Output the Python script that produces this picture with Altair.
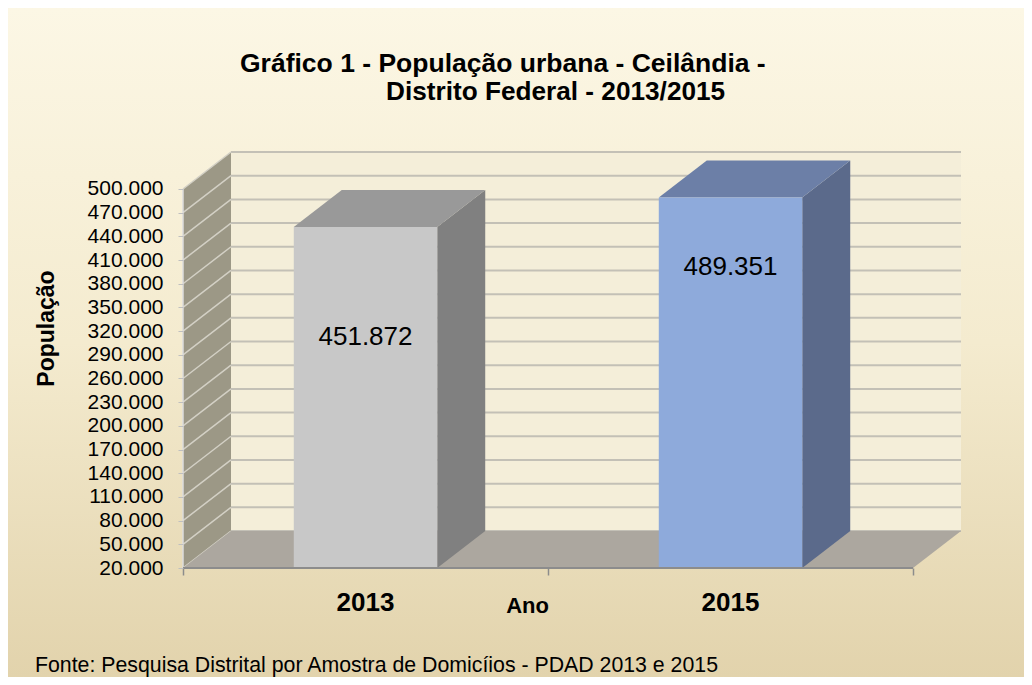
import altair as alt
import pandas as pd

# ---------------- data ----------------
anos = ["2013", "2015"]
populacao = [451872, 489351]
ticks_y = [20000, 50000, 80000, 110000, 140000, 170000, 200000, 230000,
           260000, 290000, 320000, 350000, 380000, 410000, 440000, 470000, 500000]
cores_frente = ["#c8c8c8", "#8eaadb"]
cores_topo = ["#999999", "#6c7fa7"]
cores_lado = ["#808080", "#5b6a8b"]

titulo1 = "Gráfico 1 - População urbana - Ceilândia -"
titulo2 = "Distrito Federal - 2013/2015"
titulo_y = "População"
titulo_x = "Ano"
fonte = "Fonte: Pesquisa Distrital por Amostra de Domicíios - PDAD 2013 e 2015"

# ---------------- layout / style ----------------
Y_MIN, Y_MAX = ticks_y[0], ticks_y[-1]
N = len(anos)
DX = 0.1315      # depth of the 3D effect, in category units
DY = 46860       # depth of the 3D effect, in value units
HALF = 0.1965    # half bar width, in category units
W, H = 778, 416
PAD = {"left": 175, "top": 144, "right": 63, "bottom": 109}
FONT = "Liberation Sans"

xs = alt.Scale(domain=[0, N + DX], nice=False, zero=False)
ys = alt.Scale(domain=[Y_MIN, Y_MAX + DY], nice=False, zero=False)

AX_X = alt.Axis(
    values=list(range(N + 1)), labels=False, domain=False, grid=False, zindex=2,
    tickColor="#8c8c8c", tickWidth=1.5, tickSize=7,
    title=titulo_x, titleFontSize=22, titleFontWeight="bold", titleColor="#000000",
    titleFont=FONT, titleX=344, titleY=44, titleAlign="center",
    titleBaseline="alphabetic")
AX_Y = alt.Axis(
    values=ticks_y, labelExpr="replace(format(datum.value, ','), ',', '.')",
    domain=False, grid=False, zindex=2, tickColor="#bfbfbf", tickSize=5,
    labelFontSize=21, labelFont=FONT, labelColor="#000000", labelPadding=15,
    title=titulo_y, titleFontSize=23, titleFontWeight="bold", titleColor="#000000",
    titleFont=FONT, titleX=-137, titleY=176, titleAngle=270,
    titleAlign="center", titleBaseline="middle")

def X(f, **kw):
    return alt.X(f, scale=xs, axis=AX_X, **kw)

def Y(f, **kw):
    return alt.Y(f, scale=ys, axis=AX_Y, **kw)

# ---------------- tables built from the arrays ----------------
bars = pd.DataFrame({
    "ano": anos,
    "valor": populacao,
    "c": [i + 0.5 for i in range(N)],
    "frente": cores_frente,
})
bars["x0"] = bars["c"] - HALF
bars["x1"] = bars["c"] + HALF
bars["base"] = Y_MIN
bars["rotulo"] = [f"{v:,}".replace(",", ".") for v in populacao]

top_rows, side_rows = [], []
for i, v in enumerate(populacao):
    c = i + 0.5
    for x, y, y2 in [(c - HALF, v, v), (c - HALF + DX, v, v + DY),
                     (c + HALF, v, v + DY), (c + HALF + DX, v + DY, v + DY)]:
        top_rows.append({"id": i, "x": x, "y": y, "y2": y2, "cor": cores_topo[i]})
    for x, y, y2 in [(c + HALF, Y_MIN, v), (c + HALF + DX, Y_MIN + DY, v + DY)]:
        side_rows.append({"id": i, "x": x, "y": y, "y2": y2, "cor": cores_lado[i]})
tops = pd.DataFrame(top_rows)
sides = pd.DataFrame(side_rows)

grid = pd.DataFrame({"t": ticks_y})
grid["tb"] = grid["t"] + DY
grid["x0"] = 0.0
grid["xb"] = DX
grid["xe"] = N + DX

wall = pd.DataFrame({"x": [DX], "x2": [N + DX], "y": [Y_MIN + DY], "y2": [Y_MAX + DY]})
left = pd.DataFrame({"x": [0.0, DX], "y": [Y_MIN, Y_MIN + DY], "y2": [Y_MAX, Y_MAX + DY]})
floor = pd.DataFrame({"x": [0.0, DX, N, N + DX],
                      "y": [Y_MIN, Y_MIN, Y_MIN, Y_MIN + DY],
                      "y2": [Y_MIN, Y_MIN + DY, Y_MIN + DY, Y_MIN + DY]})
front_axis = pd.DataFrame({"x": [0.0], "x2": [float(N)], "y": [Y_MIN], "y2": [Y_MAX]})
one = pd.DataFrame({"a": [0]})

# ---------------- layers ----------------
bg = alt.Chart(one).mark_rect(
    color=alt.Gradient(gradient="linear", x1=0, x2=0, y1=0, y2=1,
                       stops=[alt.GradientStop(color="#fcf7e5", offset=0),
                              alt.GradientStop(color="#f4ebcf", offset=0.5),
                              alt.GradientStop(color="#e2d3ac", offset=1)])
).encode(x=alt.value(-PAD["left"]), x2=alt.value(W + PAD["right"]),
         y=alt.value(-PAD["top"]), y2=alt.value(H + PAD["bottom"]))

back = alt.Chart(wall).mark_rect(color="#f4eed9").encode(
    x=X("x:Q"), x2="x2:Q", y=Y("y:Q"), y2="y2:Q")

back_grid = alt.Chart(grid).mark_rule(color="#c3c0b6", strokeWidth=2).encode(
    x=X("xb:Q"), x2="xe:Q", y=Y("tb:Q"))

left_wall = alt.Chart(left).mark_area(color="#9c9886", orient="vertical").encode(
    x=X("x:Q"), y=Y("y:Q", stack=None), y2="y2:Q")

side_grid = alt.Chart(grid).mark_rule(color="#d3d0c5", strokeWidth=1.5).encode(
    x=X("x0:Q"), x2="xb:Q", y=Y("t:Q"), y2="tb:Q")

floor_l = alt.Chart(floor).mark_area(color="#aca79f", orient="vertical").encode(
    x=X("x:Q"), y=Y("y:Q", stack=None), y2="y2:Q")

bar_side = alt.Chart(sides).mark_area(orient="vertical").encode(
    x=X("x:Q"), y=Y("y:Q", stack=None), y2="y2:Q",
    color=alt.Color("cor:N", scale=None), detail="id:N")

bar_top = alt.Chart(tops).mark_area(orient="vertical").encode(
    x=X("x:Q"), y=Y("y:Q", stack=None), y2="y2:Q",
    color=alt.Color("cor:N", scale=None), detail="id:N")

bar_front = alt.Chart(bars).mark_rect().encode(
    x=X("x0:Q"), x2="x1:Q", y=Y("base:Q"), y2="valor:Q",
    color=alt.Color("frente:N", scale=None))

lbl_a = alt.Chart(bars).transform_filter(alt.datum.ano == anos[0]).mark_text(
    fontSize=26, font=FONT, color="#000000", baseline="middle", dy=110
).encode(x=X("c:Q"), y=Y("valor:Q"), text="rotulo:N")

lbl_b = alt.Chart(bars).transform_filter(alt.datum.ano == anos[1]).mark_text(
    fontSize=26, font=FONT, color="#000000", baseline="middle", dy=70
).encode(x=X("c:Q"), y=Y("valor:Q"), text="rotulo:N")

axis_front = alt.Chart(front_axis).mark_rule(color="#dcdcdc", strokeWidth=1.5).encode(
    x=X("x:Q"), y=Y("y:Q"), y2="y2:Q")

axis_bottom = alt.Chart(front_axis).mark_rule(color="#8c8c8c", strokeWidth=2).encode(
    x=X("x:Q"), x2="x2:Q", y=Y("y:Q"))

year_lbl = alt.Chart(bars).mark_text(
    fontSize=26, font=FONT, fontWeight="bold", color="#000000", baseline="alphabetic"
).encode(x=X("c:Q"), y=alt.value(459), text="ano:N")

t1 = alt.Chart(one).mark_text(
    text=titulo1, fontSize=26.5, font=FONT, fontWeight="bold", color="#000000",
    align="left", baseline="alphabetic"
).encode(x=alt.value(57), y=alt.value(-80))

t2 = alt.Chart(one).mark_text(
    text=titulo2, fontSize=26.2, font=FONT, fontWeight="bold", color="#000000",
    align="left", baseline="alphabetic"
).encode(x=alt.value(203), y=alt.value(-52))

foot = alt.Chart(one).mark_text(
    text=fonte, fontSize=21.3, font=FONT, color="#000000",
    align="left", baseline="alphabetic"
).encode(x=alt.value(-148), y=alt.value(520))

chart = alt.layer(
    bg, back, back_grid, left_wall, side_grid, floor_l,
    bar_side, bar_top, bar_front, lbl_a, lbl_b,
    axis_front, axis_bottom, year_lbl, t1, t2, foot
).properties(
    width=W, height=H, padding=PAD,
    autosize=alt.AutoSizeParams(type="none"),
).configure(font=FONT).configure_view(stroke=None)

chart.save("out.html", embed_options={"renderer": "svg", "actions": False})
